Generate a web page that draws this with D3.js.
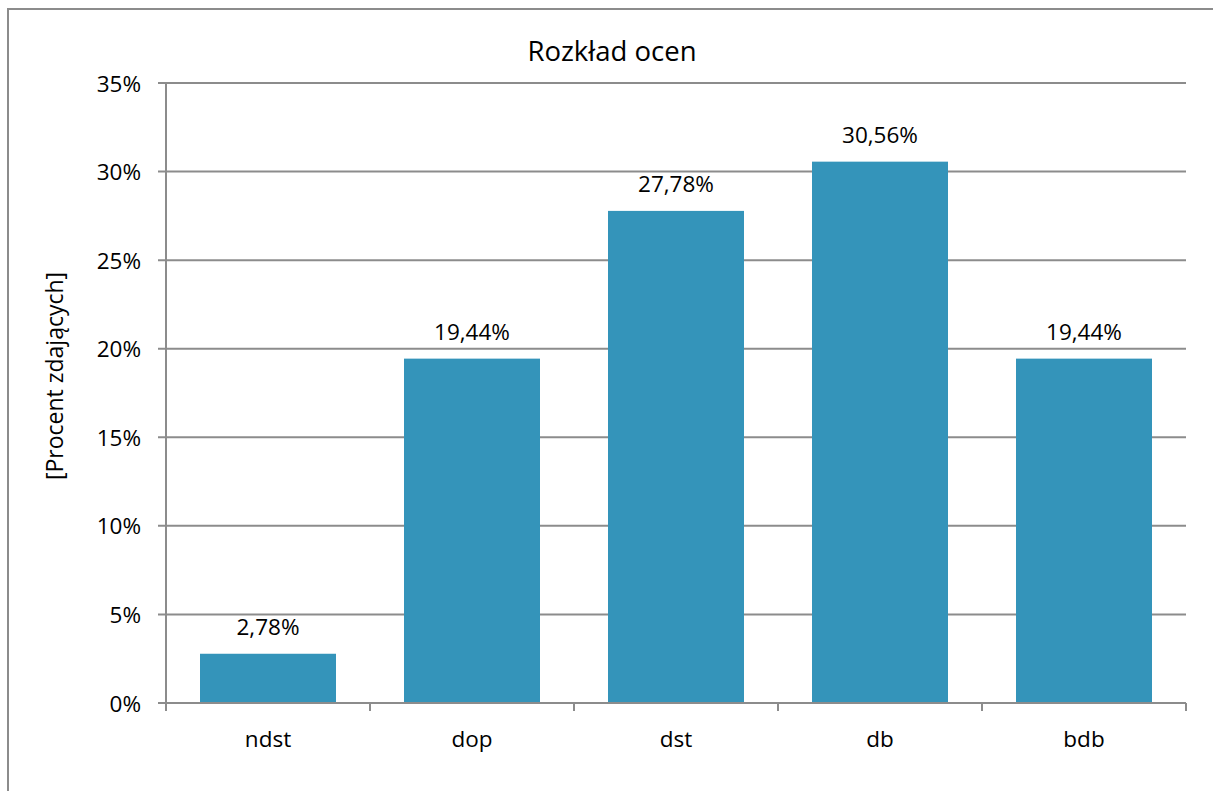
<!DOCTYPE html>
<html>
<head>
<meta charset="utf-8">
<script src="https://cdn.jsdelivr.net/npm/d3@7"></script>
<style>
	body { margin: 0; background: #fff; }
	text { font-family: "Open Sans", sans-serif; fill: #000; }
</style>
</head>
<body>
<script>
	var categories = [ "ndst", "dop", "dst", "db", "bdb" ];
	var values = [ 2.78, 19.44, 27.78, 30.56, 19.44 ];
	var valueLabels = [ "2,78%", "19,44%", "27,78%", "30,56%", "19,44%" ];
	var yTicks = [ 0, 5, 10, 15, 20, 25, 30, 35 ];

	var width = 1213, height = 791;
	// plot box (window.top is reserved, so no "top" here)
	var plotLeft = 166, plotRight = 1186, plotTop = 83, plotBottom = 703;
	var gridColor = "#8c8c8c";
	var labelSize = "22.5px";

	var svg = d3.select("body").append("svg")//
	.attr("width", width)//
	.attr("height", height);

	// outer chart border
	svg.append("rect")//
	.attr("x", 8).attr("y", 9)//
	.attr("width", 1230).attr("height", 820)//
	.attr("fill", "none")//
	.attr("stroke", gridColor)//
	.attr("stroke-width", 2);

	var x = d3.scaleBand().domain(categories).range([ plotLeft, plotRight ]).paddingInner(1 / 3).paddingOuter(1 / 6);
	var y = d3.scaleLinear().domain([ 0, 35 ]).range([ plotBottom, plotTop ]);

	// gridlines
	svg.append("g").selectAll(".grid").data(yTicks).enter().append("line")//
	.attr("class", "grid")//
	.attr("x1", plotLeft - 8).attr("x2", plotRight)//
	.attr("y1", function(d) { return y(d); })//
	.attr("y2", function(d) { return y(d); })//
	.attr("stroke", gridColor)//
	.attr("stroke-width", 2);

	// y tick labels
	svg.append("g").selectAll(".ytick").data(yTicks).enter().append("text")//
	.attr("class", "ytick")//
	.attr("x", plotLeft - 25)//
	.attr("y", function(d) { return y(d); })//
	.attr("font-size", labelSize)//
	.attr("text-anchor", "end")//
	.attr("dominant-baseline", "central")//
	.text(function(d) { return d + "%"; });

	// bars
	svg.append("g").selectAll(".bar").data(values).enter().append("rect")//
	.attr("class", "bar")//
	.attr("x", function(d, i) { return x(categories[i]); })//
	.attr("y", function(d) { return y(d); })//
	.attr("width", x.bandwidth())//
	.attr("height", function(d) { return y(0) - y(d); })//
	.attr("fill", "#3494ba");

	// value labels
	svg.append("g").selectAll(".vlabel").data(values).enter().append("text")//
	.attr("class", "vlabel")//
	.attr("x", function(d, i) { return x(categories[i]) + x.bandwidth() / 2; })//
	.attr("y", function(d) { return y(d) - 19; })//
	.attr("font-size", labelSize)//
	.attr("text-anchor", "middle")//
	.text(function(d, i) { return valueLabels[i]; });

	// y axis line
	svg.append("line")//
	.attr("x1", plotLeft).attr("x2", plotLeft)//
	.attr("y1", plotTop).attr("y2", plotBottom + 8)//
	.attr("stroke", gridColor)//
	.attr("stroke-width", 2);

	// x axis line and ticks
	svg.append("line")//
	.attr("x1", plotLeft).attr("x2", plotRight)//
	.attr("y1", plotBottom).attr("y2", plotBottom)//
	.attr("stroke", gridColor)//
	.attr("stroke-width", 2);

	var step = x.step();
	var boundaries = d3.range(categories.length + 1);
	svg.append("g").selectAll(".xtick").data(boundaries).enter().append("line")//
	.attr("class", "xtick")//
	.attr("x1", function(d) { return plotLeft + d * step; })//
	.attr("x2", function(d) { return plotLeft + d * step; })//
	.attr("y1", plotBottom).attr("y2", plotBottom + 8)//
	.attr("stroke", gridColor)//
	.attr("stroke-width", 2);

	// category labels
	svg.append("g").selectAll(".xlabel").data(categories).enter().append("text")//
	.attr("class", "xlabel")//
	.attr("x", function(d) { return x(d) + x.bandwidth() / 2; })//
	.attr("y", plotBottom + 44)//
	.attr("font-size", labelSize)//
	.attr("text-anchor", "middle")//
	.text(function(d) { return d; });

	// title
	svg.append("text")//
	.attr("x", 612)//
	.attr("y", 61)//
	.attr("font-size", "27.5px")//
	.attr("text-anchor", "middle")//
	.text("Rozkład ocen");

	// y axis title
	svg.append("text")//
	.attr("transform", "translate(63," + ((plotTop + plotBottom) / 2 - 17) + ") rotate(-90)")//
	.attr("font-size", "23px")//
	.attr("text-anchor", "middle")//
	.text("[Procent zdających]");
</script>
</body>
</html>
